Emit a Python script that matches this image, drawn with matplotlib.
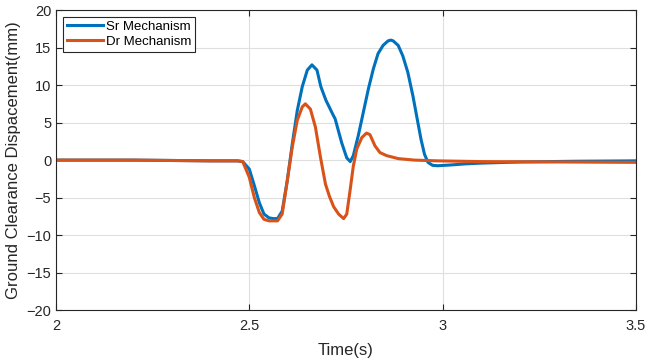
import numpy as np
import matplotlib.pyplot as plt

plt.rcParams['font.family'] = ['Liberation Sans', 'DejaVu Sans']

# Sr mechanism
t_sr = [2.0, 2.2, 2.4, 2.470, 2.483, 2.500, 2.513, 2.526, 2.538, 2.551, 2.562, 2.573,
        2.585, 2.598, 2.611, 2.624, 2.637, 2.650, 2.662, 2.675, 2.685, 2.698, 2.715,
        2.722, 2.739, 2.752, 2.761, 2.769, 2.782, 2.795, 2.808, 2.821, 2.833, 2.846,
        2.859, 2.866, 2.872, 2.885, 2.897, 2.910, 2.923, 2.936, 2.944, 2.953, 2.962,
        2.974, 2.987, 3.02, 3.06, 3.1, 3.2, 3.35, 3.5]
y_sr = [0.0, 0.0, -0.1, -0.1, -0.2, -1.2, -3.4, -5.7, -7.2, -7.7, -7.8, -7.8,
        -6.8, -2.8, 2.1, 6.6, 9.8, 12.0, 12.7, 12.0, 9.8, 8.0, 6.2,
        5.5, 2.3, 0.3, -0.2, 0.6, 3.3, 6.4, 9.5, 12.2, 14.2, 15.3,
        15.9, 16.0, 15.9, 15.3, 13.9, 11.7, 8.6, 5.0, 2.8, 0.8, -0.3,
        -0.7, -0.75, -0.65, -0.5, -0.4, -0.25, -0.15, -0.1]

# Dr mechanism
t_dr = [2.0, 2.2, 2.4, 2.470, 2.483, 2.500, 2.513, 2.526, 2.538, 2.551, 2.573,
        2.585, 2.598, 2.611, 2.624, 2.637, 2.645, 2.658, 2.671, 2.684, 2.697,
        2.707, 2.718, 2.731, 2.744, 2.752, 2.761, 2.769, 2.778, 2.791, 2.803,
        2.812, 2.825, 2.838, 2.855, 2.885, 2.927, 2.987, 3.1, 3.3, 3.5]
y_dr = [0.0, 0.0, -0.1, -0.1, -0.2, -2.3, -5.0, -7.0, -7.9, -8.1, -8.1,
        -7.2, -2.8, 1.7, 5.3, 7.1, 7.5, 6.8, 4.4, 0.4, -3.2,
        -4.8, -6.2, -7.2, -7.8, -7.2, -3.9, -0.8, 1.5, 3.0, 3.6,
        3.4, 1.9, 1.0, 0.6, 0.2, 0.0, -0.1, -0.2, -0.25, -0.3]

fig = plt.figure(figsize=(6.48, 3.61), dpi=100)
ax = fig.add_axes([0.0864, 0.141, 0.895, 0.831])

ax.plot(t_sr, y_sr, color='#0072BD', lw=2.2, label='Sr Mechanism')
ax.plot(t_dr, y_dr, color='#D95319', lw=2.2, label='Dr Mechanism')

ax.set_xlim(2, 3.5)
ax.set_ylim(-20, 20)
ax.set_xticks([2, 2.5, 3, 3.5])
ax.set_xticklabels(['2', '2.5', '3', '3.5'])
ax.set_yticks(np.arange(-20, 21, 5))
ax.grid(True, color='#dfdfdf', lw=0.8)
ax.set_axisbelow(True)
ax.tick_params(direction='in', top=True, right=True, labelsize=10.5,
               colors='#262626', length=4)
ax.tick_params(axis='x', pad=6.5)
for s in ax.spines.values():
    s.set_color('#262626')

ax.set_xlabel('Time(s)', fontsize=12, color='#262626', labelpad=7)
ax.set_ylabel('Ground Clearance Dispacement(mm)', fontsize=12, color='#262626')

leg = ax.legend(loc='upper left', fontsize=9.5, fancybox=False, edgecolor='#262626',
                framealpha=1, handlelength=2.8, handletextpad=0.2,
                borderpad=0.3, labelspacing=0.2, borderaxespad=0.5)
leg.get_frame().set_linewidth(0.8)

fig.savefig('out.png', dpi=100)
